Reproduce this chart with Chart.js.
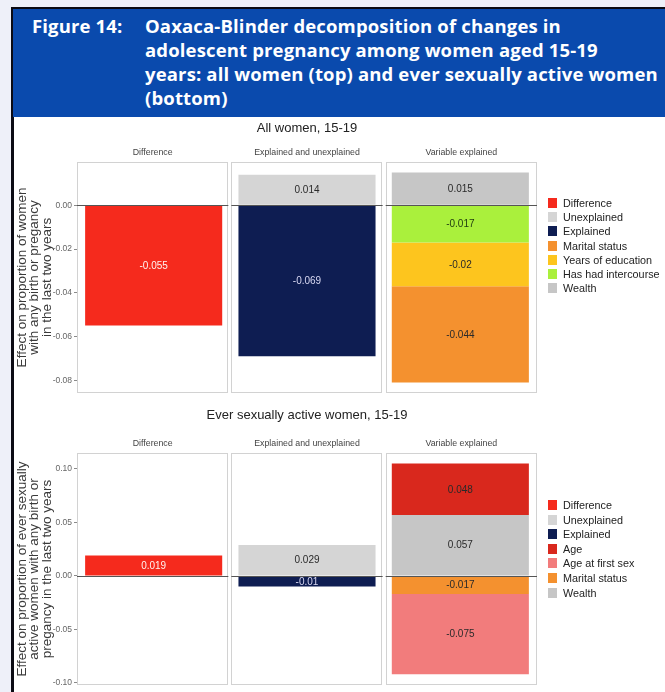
<!DOCTYPE html>
<html>
<head>
<meta charset="utf-8">
<script src="https://cdn.jsdelivr.net/npm/chart.js@4.4.1/dist/chart.umd.min.js"></script>
<style>
  html, body { margin: 0; padding: 0; }
  body { width: 665px; height: 692px; overflow: hidden; position: relative; background: #eef0f9;
         font-family: 'Liberation Sans', Arial, sans-serif; }
  #hdr { position: absolute; left: 11px; top: 7px; width: 660px; height: 108px; background: #0a4aad;
         border: 2px solid #0b0b14; border-right: none; }
  .ht { position: absolute; color: #fff; font-family: 'Open Sans', Roboto, sans-serif; font-weight: 700;
        font-size: 18.5px; letter-spacing: 0.15px; line-height: 24px; white-space: nowrap; }
  #sheet { position: absolute; left: 11px; top: 117px; width: 660px; height: 590px; background: #fff;
           border-left: 3px solid #0b0b14; }
  canvas { position: absolute; left: 14px; }
  #cTop { top: 118px; }
  #cBot { top: 400px; }
  .key { position: absolute; left: 548px; font-size: 10.8px; color: #222; white-space: nowrap; }
  .key span.sw { position: absolute; left: 0; width: 9px; height: 10px; }
  .key span.tx { position: absolute; left: 15px; line-height: 12px; }
</style>
</head>
<body>
<div id="hdr"></div>
<div class="ht" style="left:32px; top:14px;">Figure 14:</div>
<div class="ht" style="left:145px; top:14px;">Oaxaca-Blinder decomposition of changes in<br>adolescent pregnancy among women aged 15-19<br>years: all women (top) and ever sexually active women<br>(bottom)</div>
<div id="sheet"></div>
<canvas id="cTop" width="651" height="282"></canvas>
<canvas id="cBot" width="651" height="292"></canvas>
<div id="legTop"></div>
<div id="legBot"></div>
<script>
// Facet columns
const panels = ['Difference', 'Explained and unexplained', 'Variable explained'];

// All women, 15-19 (one value per facet column, null where the component is not shown)
const allDifference   = [-0.055, null, null];
const allUnexplained  = [null, 0.014, null];
const allExplained    = [null, -0.069, null];
const allWealth       = [null, null, 0.015];
const allIntercourse  = [null, null, -0.017];
const allEducation    = [null, null, -0.02];
const allMarital      = [null, null, -0.044];

// Ever sexually active women, 15-19
const actDifference   = [0.019, null, null];
const actUnexplained  = [null, 0.029, null];
const actExplained    = [null, -0.01, null];
const actWealth       = [null, null, 0.057];
const actAge          = [null, null, 0.048];
const actMarital      = [null, null, -0.017];
const actFirstSex     = [null, null, -0.075];

// Axis ticks and ranges
const allTicks = [0, -0.02, -0.04, -0.06, -0.08];
const actTicks = [0.10, 0.05, 0, -0.05, -0.10];
const allRange = [-0.0858, 0.0198];
const actRange = [-0.1019, 0.1149];

// Legend order for each panel row
const allLegend = ['Difference', 'Unexplained', 'Explained', 'Marital status', 'Years of education', 'Has had intercourse', 'Wealth'];
const actLegend = ['Difference', 'Unexplained', 'Explained', 'Age', 'Age at first sex', 'Marital status', 'Wealth'];

// Fill and label colours per component
const STYLE = {
  'Difference':          { fill: '#f52a1d', text: '#fff4f0' },
  'Unexplained':         { fill: '#d5d5d5', text: '#2a2a2a' },
  'Explained':           { fill: '#0e1d52', text: '#d8d8f2' },
  'Marital status':      { fill: '#f4912f', text: '#2a2a2a' },
  'Years of education':  { fill: '#fdc51e', text: '#2a2a2a' },
  'Has had intercourse': { fill: '#aaf03c', text: '#1f3a10' },
  'Wealth':              { fill: '#c6c6c6', text: '#2a2a2a' },
  'Age':                 { fill: '#d9281d', text: '#2a2a2a' },
  'Age at first sex':    { fill: '#f27c7c', text: '#2a2a2a' }
};

Chart.defaults.font.family = "'Liberation Sans', Arial, sans-serif";

// Panels, strip labels, zero line and value labels
const facetPlugin = {
  id: 'facets',
  beforeDatasetsDraw(chart, args, opts) {
    const { ctx, chartArea: a } = chart;
    const gap = 3;
    const pw = (a.right - a.left - 2 * gap) / panels.length;
    ctx.save();
    ctx.fillStyle = '#222';
    ctx.font = "13px 'Liberation Sans', Arial, sans-serif";
    ctx.textAlign = 'center';
    ctx.textBaseline = 'middle';
    ctx.fillText(opts.title, (a.left + a.right) / 2, a.top - opts.titleGap);
    panels.forEach((name, i) => {
      const l = a.left + i * (pw + gap);
      ctx.fillStyle = '#ffffff';
      ctx.fillRect(l, a.top, pw, a.bottom - a.top);
      ctx.strokeStyle = '#d2d2d2';
      ctx.lineWidth = 1;
      ctx.strokeRect(Math.round(l) + 0.5, Math.round(a.top) + 0.5, Math.round(pw) - 1, Math.round(a.bottom - a.top) - 1);
      ctx.fillStyle = '#444';
      ctx.font = "8.8px 'Liberation Sans', Arial, sans-serif";
      ctx.fillText(name, l + pw / 2, a.top - 9);
    });
    ctx.restore();
  },
  afterDatasetsDraw(chart) {
    const { ctx, chartArea: a, scales: { y } } = chart;
    const gap = 3;
    const pw = (a.right - a.left - 2 * gap) / panels.length;
    const y0 = Math.round(y.getPixelForValue(0)) + 0.5;
    ctx.save();
    ctx.strokeStyle = '#555';
    ctx.lineWidth = 1;
    panels.forEach((name, i) => {
      const l = a.left + i * (pw + gap);
      ctx.beginPath();
      ctx.moveTo(l, y0);
      ctx.lineTo(l + pw, y0);
      ctx.stroke();
    });
    ctx.font = "10px 'Liberation Sans', Arial, sans-serif";
    ctx.textAlign = 'center';
    ctx.textBaseline = 'middle';
    chart.data.datasets.forEach((ds, di) => {
      const meta = chart.getDatasetMeta(di);
      meta.data.forEach((el, j) => {
        const v = ds.data[j];
        if (v === null || v === undefined) return;
        const p = el.getProps(['x', 'y', 'base'], true);
        ctx.fillStyle = STYLE[ds.label].text;
        ctx.fillText(String(v), p.x, (p.y + p.base) / 2 + 0.5);
      });
    });
    ctx.restore();
  }
};

function makeRow(id, title, titleGap, series, ticks, range, yTitle, padTop, padBottom) {
  return new Chart(document.getElementById(id), {
    type: 'bar',
    data: {
      labels: panels,
      datasets: series.map(([name, data]) => ({
        label: name,
        data: data,
        backgroundColor: STYLE[name].fill,
        borderWidth: 0,
        barPercentage: 0.894,
        categoryPercentage: 1
      }))
    },
    options: {
      responsive: false,
      animation: false,
      layout: { padding: { left: 0, right: 128, top: padTop, bottom: padBottom } },
      plugins: {
        legend: { display: false },
        tooltip: { enabled: false },
        facets: { title: title, titleGap: titleGap }
      },
      scales: {
        x: { stacked: true, display: false },
        y: {
          stacked: true,
          min: range[0],
          max: range[1],
          afterBuildTicks: s => { s.ticks = ticks.map(v => ({ value: v })); },
          afterFit: s => { s.width = 63; },
          border: { display: false },
          grid: { drawOnChartArea: false, drawTicks: true, tickLength: 3, color: '#8a8a8a' },
          ticks: { padding: 2, color: '#666', font: { size: 8.5 }, callback: v => Number(v).toFixed(2) },
          title: {
            display: true,
            text: yTitle,
            color: '#3a3a3a',
            font: { size: 13.5, lineHeight: '12.5px' },
            padding: { top: 1.8, bottom: 0 }
          }
        }
      }
    },
    plugins: [facetPlugin]
  });
}

makeRow('cTop', 'All women, 15-19', 34, [
  ['Difference', allDifference],
  ['Unexplained', allUnexplained],
  ['Explained', allExplained],
  ['Wealth', allWealth],
  ['Has had intercourse', allIntercourse],
  ['Years of education', allEducation],
  ['Marital status', allMarital]
], allTicks, allRange,
['Effect on proportion of women', 'with any birth or pregancy', 'in the last two years'], 44, 2);

makeRow('cBot', 'Ever sexually active women, 15-19', 38, [
  ['Difference', actDifference],
  ['Unexplained', actUnexplained],
  ['Explained', actExplained],
  ['Wealth', actWealth],
  ['Age', actAge],
  ['Marital status', actMarital],
  ['Age at first sex', actFirstSex]
], actTicks, actRange,
['Effect on proportion of ever sexually', 'active women with any birth or', 'pregancy in the last two years'], 53, 5);

function buildLegend(id, names, firstY, step) {
  const host = document.getElementById(id);
  names.forEach((n, i) => {
    const row = document.createElement('div');
    row.className = 'key';
    row.style.top = (firstY + i * step - 6) + 'px';
    row.innerHTML = '<span class="sw" style="top:1px;background:' + STYLE[n].fill + '"></span><span class="tx">' + n + '</span>';
    host.appendChild(row);
  });
}
buildLegend('legTop', allLegend, 203, 14.2);
buildLegend('legBot', actLegend, 505, 14.6);
</script>
</body>
</html>
